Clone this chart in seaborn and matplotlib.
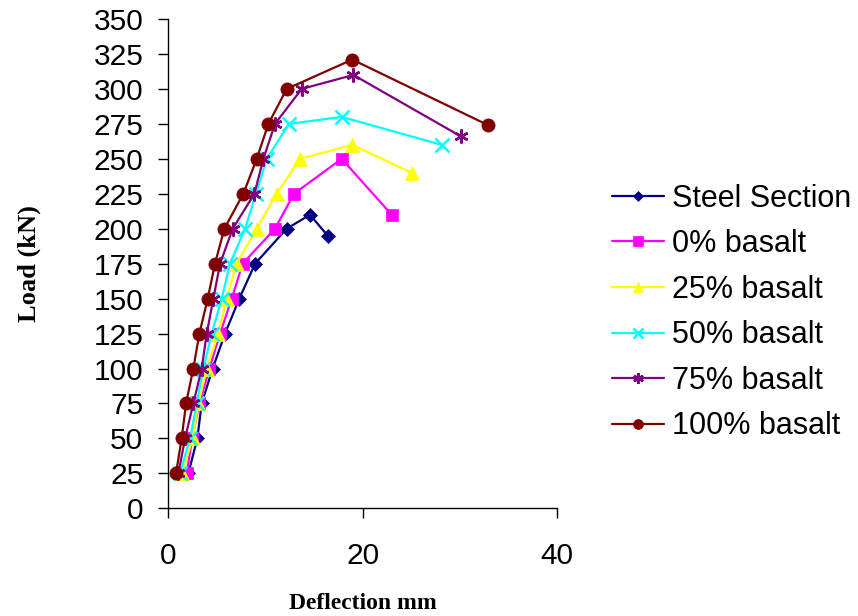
import matplotlib
matplotlib.use("Agg")
import matplotlib.pyplot as plt
import seaborn as sns
import pandas as pd

series_names = ["Steel Section", "0% basalt", "25% basalt", "50% basalt", "75% basalt", "100% basalt"]

steel_x = [2.06, 2.98, 3.43, 4.56, 5.83, 7.3, 8.92, 12.17, 14.57, 16.39]
steel_y = [25, 50, 75, 100, 125, 150, 175, 200, 210, 195]

b0_x = [1.89, 2.45, 3.19, 4.22, 5.32, 6.52, 7.64, 10.97, 12.92, 17.83, 22.97]
b0_y = [25, 50, 75, 100, 125, 150, 175, 200, 225, 250, 210]

b25_x = [1.37, 2.51, 3.09, 3.95, 5.14, 6.0, 7.03, 9.09, 11.14, 13.54, 18.92, 25.02]
b25_y = [25, 50, 75, 100, 125, 150, 175, 200, 225, 250, 260, 240]

b50_x = [1.2, 2.23, 2.92, 3.6, 4.46, 5.49, 6.34, 7.89, 9.02, 10.12, 12.41, 17.83, 28.11]
b50_y = [25, 50, 75, 100, 125, 150, 175, 200, 225, 250, 275, 280, 260]

b75_x = [1.03, 1.72, 2.57, 3.43, 3.95, 4.63, 5.32, 6.62, 8.85, 9.77, 10.97, 13.71, 19.03, 30.1]
b75_y = [25, 50, 75, 100, 125, 150, 175, 200, 225, 250, 275, 300, 310, 266]

b100_x = [0.79, 1.37, 1.82, 2.57, 3.19, 4.05, 4.8, 5.76, 7.71, 9.09, 10.29, 12.17, 18.92, 32.91]
b100_y = [25, 50, 75, 100, 125, 150, 175, 200, 225, 250, 275, 300, 321, 274]

y_ticks = list(range(0, 351, 25))
x_ticks = [0, 20, 40]

xs = [steel_x, b0_x, b25_x, b50_x, b75_x, b100_x]
ys = [steel_y, b0_y, b25_y, b50_y, b75_y, b100_y]

rows = []
for name, xx, yy in zip(series_names, xs, ys):
    for i, (a, b) in enumerate(zip(xx, yy)):
        rows.append({"series": name, "idx": i, "Deflection": a, "Load": b})
df = pd.DataFrame(rows)

colors = ["#000080", "#FF00FF", "#FFFF00", "#00FFFF", "#800080", "#800000"]
markers = ["D", "s", "^", "x", (6, 2, 0), "o"]
msizes = [7, 9, 10, 10, 10, 9.5]

sns.set_style("white")
plt.rcParams["font.family"] = ["Liberation Sans", "DejaVu Sans"]
plt.rcParams["text.color"] = "black"
plt.rcParams["axes.labelcolor"] = "black"
plt.rcParams["xtick.color"] = "black"
plt.rcParams["ytick.color"] = "black"

fig = plt.figure(figsize=(8.58, 6.16), dpi=100)
ax = fig.add_axes([0.1962, 0.1748, 0.4533, 0.7943])

for name, c, m, ms in zip(series_names, colors, markers, msizes):
    sub = df[df["series"] == name]
    sns.lineplot(data=sub, x="Deflection", y="Load", ax=ax, color=c, marker=m,
                 markersize=ms, markeredgecolor=c,
                 markeredgewidth=1.8 if m in ("x", (6, 2, 0)) else 0.5,
                 linewidth=1.6, sort=False, estimator=None, label=name)

ax.set_xlim(0, 40)
ax.set_ylim(0, 350)
ax.set_xticks(x_ticks)
ax.set_yticks(y_ticks)
ax.tick_params(axis="y", direction="out", length=7, width=1, pad=11, labelsize=21.5,
               left=True, colors="black")
ax.tick_params(axis="x", direction="out", length=7, width=1, pad=17, labelsize=21.5,
               bottom=True, colors="black")
for s in ["top", "right"]:
    ax.spines[s].set_visible(False)
for s in ["left", "bottom"]:
    ax.spines[s].set_color("black")
    ax.spines[s].set_linewidth(1)

ax.set_xlabel("Deflection mm", fontsize=17, fontweight="bold", family="Liberation Serif",
              labelpad=17, color="black")
ax.set_ylabel("Load (kN)", fontsize=19, fontweight="bold", family="Liberation Serif",
              labelpad=38, color="black")

handles, labels = ax.get_legend_handles_labels()
if ax.legend_:
    ax.legend_.remove()
leg = fig.legend(handles, labels, loc="upper left", bbox_to_anchor=(0.713, 0.702),
                 frameon=False, fontsize=22, handlelength=1.7, handletextpad=0.26,
                 labelspacing=0.51, markerscale=0.75, borderaxespad=0, borderpad=0)
for t in leg.get_texts():
    t.set_color("black")

fig.savefig("out.png", dpi=100)
